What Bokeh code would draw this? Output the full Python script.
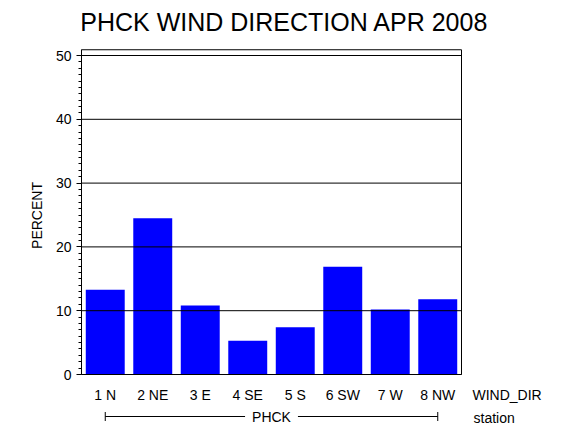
from bokeh.plotting import figure
from bokeh.models import (Range1d, FixedTicker, Label, LabelSet, Whisker, TeeHead,
                          ColumnDataSource, BoxAnnotation)
from bokeh.core.properties import value
from bokeh.embed import file_html
from bokeh.resources import INLINE

# ---- data ----
directions = ["1 N", "2 NE", "3 E", "4 SE", "5 S", "6 SW", "7 W", "8 NW"]
percent = [13.3, 24.5, 10.8, 5.3, 7.4, 16.9, 10.2, 11.8]
y_ticks = [0, 10, 20, 30, 40, 50]
y_max = 50.9
station = "PHCK"
x_var = "WIND_DIR"
group_var = "station"
title_text = "PHCK WIND DIRECTION APR 2008"

FONT = "Liberation Sans"
positions = list(range(1, len(directions) + 1))
x_lo, x_hi = 0.5, len(directions) + 0.5

W, H = 570, 430
LEFT = 81          # frame left edge (px)
PX_X = 47.5        # px per category
PX_Y = 6.38        # px per percent
BASE_Y = 374       # px of 0 %

p = figure(width=W, height=H,
           x_range=Range1d(x_lo, x_lo + (W - LEFT) / PX_X),
           y_range=Range1d(-(H - BASE_Y) / PX_Y, BASE_Y / PX_Y),
           output_backend="svg", toolbar_location=None, title=None,
           x_axis_location=None,
           min_border_left=LEFT, min_border_right=0,
           min_border_top=0, min_border_bottom=0)

p.background_fill_color = "white"
p.border_fill_color = "white"
p.outline_line_color = None
p.xgrid.grid_line_color = None
p.ygrid.grid_line_color = None

src = ColumnDataSource(dict(x=positions, top=percent, label=directions))
p.vbar(x="x", top="top", width=0.82, source=src,
       fill_color="#0000FF", line_color="#0000FF", line_width=0)

# y axis
yax = p.yaxis[0]
yax.bounds = (0, y_max)
yax.ticker = FixedTicker(ticks=y_ticks, minor_ticks=list(range(0, 51)))
yax.axis_label = "PERCENT"
yax.axis_label_text_font = FONT
yax.axis_label_text_font_size = "14px"
yax.axis_label_text_font_style = "normal"
yax.axis_label_text_color = "black"
yax.axis_label_standoff = 8
yax.major_label_text_font = FONT
yax.major_label_text_font_size = "14px"
yax.major_label_text_color = "black"
yax.major_label_standoff = 5
yax.major_tick_out = 5
yax.major_tick_in = 0
yax.minor_tick_out = 3
yax.minor_tick_in = 0
yax.axis_line_color = "black"
yax.major_tick_line_color = "black"
yax.minor_tick_line_color = "black"

# horizontal reference lines at the major ticks, limited to the plot box
gsrc = ColumnDataSource(dict(base=y_ticks,
                             lower=[x_lo] * len(y_ticks),
                             upper=[x_hi] * len(y_ticks)))
p.add_layout(Whisker(source=gsrc, base="base", lower="lower", upper="upper",
                     dimension="width", line_color="black", line_width=1,
                     lower_head=None, upper_head=None, level="overlay"))

# plot box
p.add_layout(BoxAnnotation(left=x_lo, right=x_hi, bottom=0, top=y_max,
                           fill_color=None, fill_alpha=0,
                           line_color="black", line_width=1, line_alpha=1,
                           level="overlay"))

# category labels
p.add_layout(LabelSet(x="x", y=H - 394, y_units="screen", text="label", source=src,
                      text_font=value(FONT), text_font_size="14px", text_color="black",
                      text_align="center", text_baseline="middle"))

# title
p.add_layout(Label(x=284 - LEFT, y=H - 21, x_units="screen", y_units="screen",
                   text=title_text, text_font=FONT, text_font_size="25px",
                   text_align="center", text_baseline="middle",
                   text_color="black"))

# variable name labels
p.add_layout(Label(x=472 - LEFT, y=H - 394, x_units="screen", y_units="screen",
                   text=x_var, text_font=FONT, text_font_size="14px",
                   text_align="left", text_baseline="middle", text_color="black"))
p.add_layout(Label(x=473 - LEFT, y=H - 417, x_units="screen", y_units="screen",
                   text=group_var, text_font=FONT, text_font_size="14px",
                   text_align="left", text_baseline="middle", text_color="black"))

# station bracket
wsrc = ColumnDataSource(dict(lower=[positions[0]], upper=[positions[-1]]))
p.add_layout(Whisker(source=wsrc, lower="lower", upper="upper", base=H - 416,
                     dimension="width", base_units="screen",
                     line_color="black", line_width=1,
                     lower_head=TeeHead(size=9, line_color="black", line_width=1),
                     upper_head=TeeHead(size=9, line_color="black", line_width=1)))
p.add_layout(Label(x=(positions[0] + positions[-1]) / 2, y=H - 416, y_units="screen",
                   text=station, text_font=FONT, text_font_size="14px",
                   text_align="center", text_baseline="middle", text_color="black",
                   background_fill_color="white", padding=7))

open("out.html", "w").write(file_html(p, INLINE))
